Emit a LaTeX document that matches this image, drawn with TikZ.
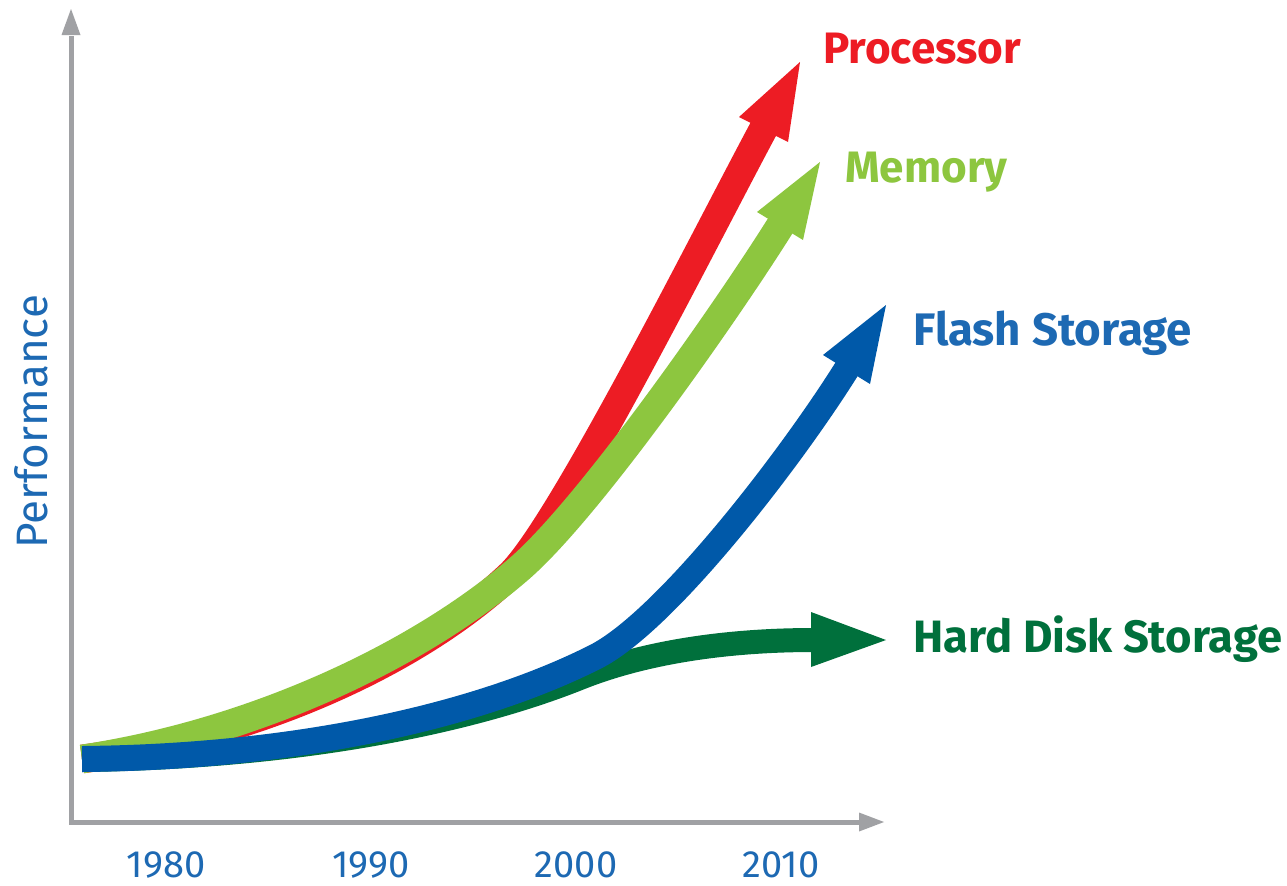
\documentclass[tikz,border=0pt]{standalone}
\usepackage{fontspec}
\setmainfont{Fira Sans}
\definecolor{procred}{HTML}{ED1C24}
\definecolor{memgreen}{HTML}{8DC63F}
\definecolor{flashblue}{HTML}{0059A9}
\definecolor{hddgreen}{HTML}{00703C}
\definecolor{txtblue}{HTML}{1D69B3}
\definecolor{axisgray}{HTML}{A0A1A4}
\begin{document}
\begin{tikzpicture}[x=0.75pt,y=-0.75pt,
  band/.style={line cap=butt, line join=round},
  lbl/.style={font=\fontsize{33}{36}\selectfont\bfseries, anchor=base west, inner sep=0pt},
  yr/.style={font=\fontsize{28.5}{32}\selectfont, text=txtblue, anchor=base, inner sep=0pt, text depth=0pt},
  axis/.style={draw=axisgray, line width=3.75pt, line join=miter}]
\fill[white] (0,0) rectangle (1287,885);
\useasboundingbox (0,0) rectangle (1287,885);

% axes
\draw[axis] (71,36) -- (71,822) -- (860,822);
\fill[axisgray] (71,9) -- (61.5,35) -- (80.5,35) -- cycle;
\fill[axisgray] (884,822) -- (859,812.5) -- (859,831.5) -- cycle;

% processor (red)
\draw[band, procred, line width=21.5pt] (82,759) .. controls (260,735) and (420,660) .. (510,575)
  .. controls (560,528) and (708,232) .. (765,126);
\fill[procred] (800,62) -- (739,117) -- (788,142) -- cycle;

% memory (light green)
\draw[band, memgreen, line width=21.5pt] (82,759) .. controls (255,733) and (420,655) .. (520,568)
  .. controls (590,507) and (729,308) .. (782,223);
\fill[memgreen] (820,162) -- (757,212) -- (803,240) -- cycle;

% hard disk (dark green)
\draw[band, hddgreen, line width=18pt] (82,760) .. controls (300,757) and (470,722) .. (580,678)
  .. controls (640,654) and (720,640) .. (814,640);
\fill[hddgreen] (886,640) -- (811,612) -- (811,667) -- cycle;

% flash (blue)
\draw[band, flashblue, line width=19.5pt] (82,759) .. controls (300,757) and (480,715) .. (595,657)
  .. controls (665,622) and (790,460) .. (848,367);
\fill[flashblue] (886,305) -- (823,355) -- (870,384) -- cycle;

% labels
\node[lbl, text=procred] (lproc) at (823,63) {Processor};
\node[lbl, text=memgreen] (lmem) at (845,182) {Memory};
\node[lbl, text=txtblue, font=\fontsize{34.2}{36}\selectfont\bfseries] (lflash) at (913,345) {Flash Storage};
\node[lbl, text=hddgreen, font=\fontsize{34}{36}\selectfont\bfseries] (lhdd) at (913,652) {Hard Disk Storage};

\node[yr] (y1980) at (166,877) {1980};
\node[yr] (y1990) at (371,877) {1990};
\node[yr] (y2000) at (576,877) {2000};
\node[yr] (y2010) at (781,877) {2010};

\node[font=\fontsize{33}{38}\selectfont, text=txtblue, rotate=90, anchor=base west, inner sep=0pt] (perf) at (47,549) {Performance};
\end{tikzpicture}
\end{document}
